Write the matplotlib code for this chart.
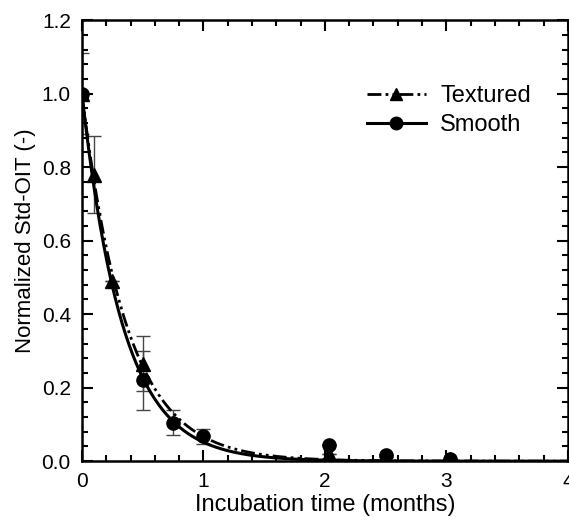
import numpy as np
import matplotlib
matplotlib.use("Agg")
import matplotlib.pyplot as plt
from matplotlib.ticker import MultipleLocator
from matplotlib.lines import Line2D

plt.rcParams['font.family'] = ['Liberation Sans', 'DejaVu Sans']

t_textured = [0.0, 0.1, 0.25, 0.5, 2.03, 2.5, 3.03]
y_textured = [1.0, 0.78, 0.49, 0.265, 0.02, 0.01, 0.006]
e_textured = [0.11, 0.105, 0.0, 0.075, 0.0, 0.0, 0.0]

t_smooth = [0.0, 0.5, 0.75, 1.0, 2.03, 2.5, 3.03]
y_smooth = [1.0, 0.22, 0.105, 0.068, 0.045, 0.017, 0.007]
e_smooth = [0.0, 0.08, 0.035, 0.02, 0.0, 0.0, 0.0]

x_ticks = [0, 1, 2, 3, 4]
x_ticklabels = ['0', '1', '2', '3', '4']
y_ticks = [0, 0.2, 0.4, 0.6, 0.8, 1.0, 1.2]
y_ticklabels = ['0.0', '0.2', '0.4', '0.6', '0.8', '1.0', '1.2']

def fit_k(t, y):
    t = np.asarray(t); y = np.asarray(y)
    ks = np.linspace(0.5, 8, 7501)
    err = [np.sum((y - np.exp(-k * t)) ** 2) for k in ks]
    return ks[int(np.argmin(err))]

k_tex = fit_k(t_textured, y_textured)
k_smo = fit_k(t_smooth, y_smooth)

fig = plt.figure(figsize=(5.69, 5.17), dpi=100)
ax = fig.add_axes([0.144, 0.108, 0.854, 0.853])

tex_dash = [5, 1.5, 1, 1.5, 1, 1.5]
tt = np.linspace(0, 4, 400)
ax.plot(tt, np.exp(-k_tex * tt), color='black', lw=2.0, dashes=tex_dash, zorder=2)
ax.plot(tt, np.exp(-k_smo * tt), color='black', lw=2.2, zorder=2)

ax.errorbar(t_textured, y_textured, yerr=e_textured, fmt='none', ecolor='#444444',
            elinewidth=1, capsize=5, capthick=1, zorder=1)
ax.errorbar(t_smooth, y_smooth, yerr=e_smooth, fmt='none', ecolor='#444444',
            elinewidth=1, capsize=5, capthick=1, zorder=1)

ax.plot(t_textured, y_textured, linestyle='none', marker='^', color='black', ms=9.5, zorder=3)
ax.plot(t_smooth, y_smooth, linestyle='none', marker='o', color='black', ms=9.5, zorder=4)

h1 = Line2D([], [], color='black', lw=2.0, dashes=tex_dash, marker='^', ms=9)
h2 = Line2D([], [], color='black', lw=2.2, marker='o', ms=9)
ax.legend([h1, h2], ['Textured', 'Smooth'], loc='center', bbox_to_anchor=(0.755, 0.795),
          frameon=False, fontsize=17, handlelength=2.5, handletextpad=0.6,
          labelspacing=0.3, borderpad=0)

ax.set_xlim(0, 4)
ax.set_ylim(0, 1.2)
ax.set_xticks(x_ticks)
ax.set_xticklabels(x_ticklabels)
ax.set_yticks(y_ticks)
ax.set_yticklabels(y_ticklabels)
ax.xaxis.set_minor_locator(MultipleLocator(0.2))
ax.yaxis.set_minor_locator(MultipleLocator(0.04))
ax.tick_params(which='both', direction='in', top=True, right=True, labelsize=15, width=1.5)
ax.tick_params(which='major', length=8, pad=8)
ax.tick_params(which='minor', length=4)
for s in ax.spines.values():
    s.set_linewidth(1.8)

ax.set_xlabel('Incubation time (months)', fontsize=17, labelpad=2)
ax.set_ylabel('Normalized Std-OIT (-)', fontsize=16, labelpad=4)

fig.savefig('out.png', dpi=100)
